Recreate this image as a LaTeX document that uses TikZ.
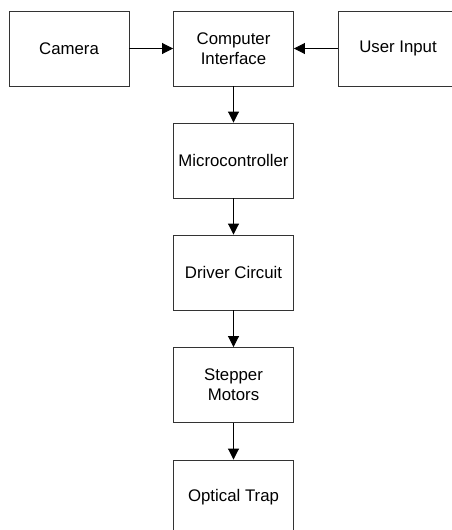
\documentclass[tikz,border=0pt]{standalone}
\usepackage{fontspec}
\setmainfont{Liberation Sans}
\usetikzlibrary{arrows.meta}
\begin{document}
\begin{tikzpicture}[x=1pt,y=-1pt,
  blk/.style={draw=black!80, line width=0.9pt, minimum width=120pt, minimum height=75pt, inner sep=0pt, align=center, font=\fontsize{16.8}{20}\selectfont},
  conn/.style={line width=0.9pt, -{Triangle[length=11pt,width=11pt]}}]
\useasboundingbox (0,0) rectangle (452,530);
\begin{scope}
\clip (0,0) rectangle (452,530);
\node[blk] (cam) at (69,48.5) {Camera};
\node[blk] (ci) at (233.5,48.5) {Computer\\Interface};
\node[blk] (ui) at (398,48.5) {User Input};
\node[blk] (mc) at (233.5,160.5) {Microcontroller};
\node[blk] (dc) at (233.5,272.5) {Driver Circuit};
\node[blk] (sm) at (233.5,385) {Stepper\\Motors};
\node[blk] (ot) at (233.5,497.5) {Optical Trap};
\draw[conn] (cam) -- (ci);
\draw[conn] (ui) -- (ci);
\draw[conn] (ci) -- (mc);
\draw[conn] (mc) -- (dc);
\draw[conn] (dc) -- (sm);
\draw[conn] (sm) -- (ot);
\end{scope}
\end{tikzpicture}
\end{document}
